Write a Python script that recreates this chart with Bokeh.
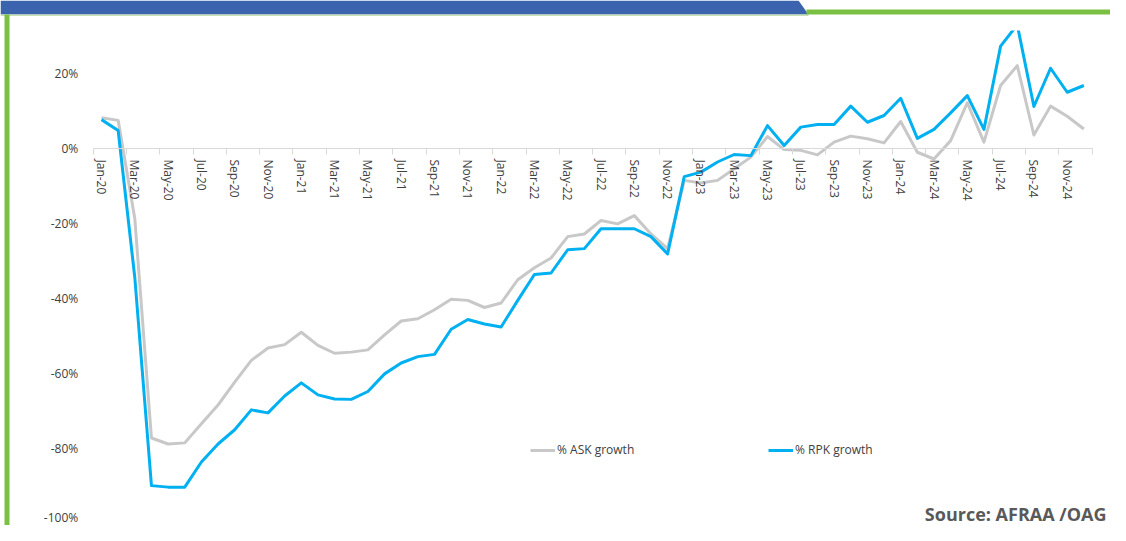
import math
from bokeh.plotting import figure
from bokeh.models import (Range1d, FixedTicker, PrintfTickFormatter, LinearAxis, Legend,
                          LegendItem, Label, BoxAnnotation, PolyAnnotation, ColumnDataSource)
from bokeh.embed import file_html
from bokeh.resources import INLINE

# ---------------- data ----------------
months = [
    "Jan-20", "Feb-20", "Mar-20", "Apr-20", "May-20", "Jun-20", "Jul-20", "Aug-20", "Sep-20", "Oct-20", "Nov-20", "Dec-20",
    "Jan-21", "Feb-21", "Mar-21", "Apr-21", "May-21", "Jun-21", "Jul-21", "Aug-21", "Sep-21", "Oct-21", "Nov-21", "Dec-21",
    "Jan-22", "Feb-22", "Mar-22", "Apr-22", "May-22", "Jun-22", "Jul-22", "Aug-22", "Sep-22", "Oct-22", "Nov-22", "Dec-22",
    "Jan-23", "Feb-23", "Mar-23", "Apr-23", "May-23", "Jun-23", "Jul-23", "Aug-23", "Sep-23", "Oct-23", "Nov-23", "Dec-23",
    "Jan-24", "Feb-24", "Mar-24", "Apr-24", "May-24", "Jun-24", "Jul-24", "Aug-24", "Sep-24", "Oct-24", "Nov-24", "Dec-24",
]

ask_growth = [
    8.2, 7.5, -18.7, -77.2, -78.8, -78.5, -73.4, -68.4, -62.3, -56.5, -53.2, -52.3,
    -49.0, -52.5, -54.6, -54.3, -53.7, -49.7, -46.0, -45.4, -43.0, -40.2, -40.5, -42.4,
    -41.2, -35.0, -31.8, -29.2, -23.5, -22.8, -19.2, -20.1, -17.9, -22.8, -26.7, -8.5,
    -9.2, -8.5, -5.4, -2.3, 3.2, -0.3, -0.5, -1.7, 1.7, 3.3, 2.6, 1.5,
    7.2, -1.0, -2.8, 2.1, 12.2, 1.7, 16.8, 22.1, 3.6, 11.3, 8.6, 5.2,
]

rpk_growth = [
    7.7, 4.8, -34.4, -89.9, -90.3, -90.3, -83.6, -78.8, -75.0, -69.7, -70.5, -66.0,
    -62.5, -65.7, -66.8, -66.9, -64.8, -60.1, -57.2, -55.5, -54.9, -48.2, -45.6, -46.8,
    -47.6, -40.5, -33.6, -33.2, -27.0, -26.7, -21.4, -21.4, -21.4, -23.5, -28.1, -7.5,
    -6.3, -3.6, -1.6, -1.9, 6.1, 0.8, 5.7, 6.4, 6.4, 11.3, 7.0, 8.8,
    13.4, 2.7, 5.1, 9.5, 14.1, 5.1, 27.3, 33.0, 11.2, 21.4, 15.0, 16.8,
]

y_ticks = [-100, -80, -60, -40, -20, 0, 20]
series_names = ["% ASK growth", "% RPK growth"]
source_text = "Source: AFRAA /OAG"

# ---------------- layout (pixel geometry of the picture) ----------------
CW, CH = 1110, 525           # canvas size (fits the window with the 8px page margin)
X_FIRST, PXM = 101.0, 16.65  # x of first month, px per month
Y_ZERO, PXU = 148.0, 3.75    # y of 0 %, px per percentage point
Y_CLIP = 30.0                # top of the reference plot area
FONT = "Open Sans"
TXT = "#404040"
ASK_C = "#c8c8c8"
RPK_C = "#00b0f0"
BLUE = "#3c64ae"
GREEN = "#7ac143"
AXIS_C = "#d9d9d9"


def dx(X):
    return (X - X_FIRST) / PXM


def dy(Y):
    return (Y_ZERO - Y) / PXU


idx = list(range(len(months)))
n = len(months)

p = figure(width=CW, height=CH, output_backend="svg", toolbar_location=None,
           x_axis_type=None, y_axis_type=None,
           x_range=Range1d(dx(0), dx(CW)),
           y_range=Range1d(dy(CH), dy(0)),
           min_border=0, min_border_left=0, min_border_right=0,
           min_border_top=0, min_border_bottom=0,
           outline_line_color=None, background_fill_color="white",
           border_fill_color="white")
p.grid.visible = False

# y axis (fixed at the left edge of the plot area)
ya = LinearAxis(fixed_location=-0.5, ticker=FixedTicker(ticks=y_ticks),
                formatter=PrintfTickFormatter(format="%d%%"))
ya.axis_line_color = None
ya.major_tick_line_color = None
ya.minor_tick_line_color = None
ya.major_label_standoff = 9
ya.major_label_text_font = FONT
ya.major_label_text_font_size = "12px"
ya.major_label_text_color = TXT
p.add_layout(ya, "left")

# category axis crossing at 0 %
even = idx[::2]
xa = LinearAxis(fixed_location=0, bounds=(-0.5, n - 0.5),
                ticker=FixedTicker(ticks=even,
                                   minor_ticks=[i - 0.5 for i in even] + [n - 0.5]))
xa.major_label_overrides = {i: months[i] for i in even}
xa.major_label_orientation = "vertical"
xa.axis_line_color = AXIS_C
xa.major_tick_line_color = None
xa.major_tick_in = 0
xa.major_tick_out = 0
xa.minor_tick_line_color = AXIS_C
xa.minor_tick_in = 0
xa.minor_tick_out = 6
xa.major_label_standoff = 5
xa.major_label_text_font = FONT
xa.major_label_text_font_size = "12px"
xa.major_label_text_color = TXT
p.add_layout(xa, "below")

# series
src = ColumnDataSource(dict(x=idx, ask=ask_growth, rpk=rpk_growth))
r_ask = p.line(x="x", y="ask", source=src, line_color=ASK_C, line_width=3, line_join="round")
r_rpk = p.line(x="x", y="rpk", source=src, line_color=RPK_C, line_width=3, line_join="round")

# plot-area clip at the top (reference cuts the peak)
p.add_layout(BoxAnnotation(left=dx(0), right=dx(CW), bottom=dy(Y_CLIP), top=dy(0),
                           fill_color="white", fill_alpha=1, line_color=None))

legend = Legend(items=[LegendItem(label=series_names[0], renderers=[r_ask]),
                       LegendItem(label=series_names[1], renderers=[r_rpk])],
                orientation="horizontal", location=(530, CH - 458),
                glyph_width=25, glyph_height=14, label_height=14, label_width=211,
                label_standoff=2, spacing=0, padding=0, margin=0,
                border_line_color=None, background_fill_alpha=0,
                label_text_font=FONT, label_text_font_size="12px",
                label_text_color=TXT)
p.add_layout(legend, "center")

p.add_layout(Label(x=dx(1106), y=dy(513), text=source_text, text_align="right",
                   text_baseline="middle", text_font=FONT, text_font_style="bold",
                   text_font_size="18px", text_color="#595959"))

# decorative frame
p.add_layout(PolyAnnotation(xs=[dx(0), dx(798), dx(808), dx(0)],
                            ys=[dy(0), dy(0), dy(14), dy(14)],
                            fill_color=BLUE, fill_alpha=1, line_color=None))
p.add_layout(BoxAnnotation(left=dx(0), right=dx(808), top=dy(14), bottom=dy(15.5),
                           fill_color="#c6e0b4", fill_alpha=1, line_color=None))
p.add_layout(BoxAnnotation(left=dx(806), right=dx(CW), top=dy(9), bottom=dy(14),
                           fill_color=GREEN, fill_alpha=1, line_color=None))
p.add_layout(BoxAnnotation(left=dx(4), right=dx(9), top=dy(14), bottom=dy(CH),
                           fill_color=GREEN, fill_alpha=1, line_color=None))

open("out.html", "w").write(file_html(p, INLINE))
